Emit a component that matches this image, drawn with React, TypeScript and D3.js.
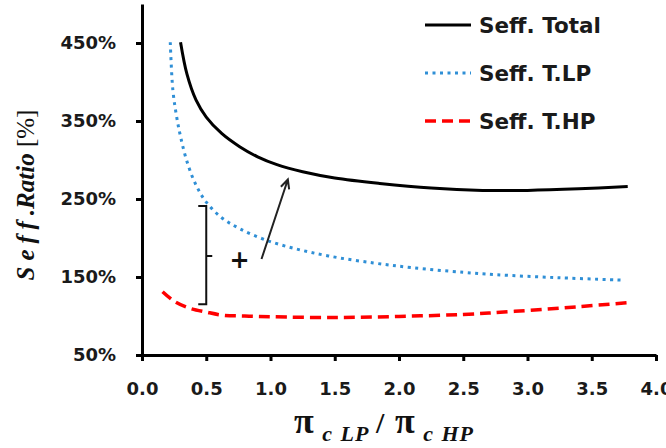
import React, { useEffect, useRef } from 'react';
import * as d3 from 'd3';

// Pressure ratio split (pi_c LP / pi_c HP) vs. efficiency ratio in %
const totalX = [0.3, 0.35, 0.42, 0.5, 0.62, 0.76, 0.9, 1.05, 1.25, 1.5, 1.85, 2.25, 2.65, 3.0, 3.4, 3.78];
const totalY = [451, 410, 377, 355, 334, 317, 304, 294, 285, 277, 270, 264, 261, 261, 263, 266];

const lpX = [0.22, 0.24, 0.27, 0.3, 0.35, 0.42, 0.5, 0.62, 0.76, 0.97, 1.2, 1.45, 1.8, 2.1, 2.5, 2.75, 3.25, 3.75];
const lpY = [451, 390, 355, 330, 298, 268, 246, 226, 212, 197, 186, 177, 168, 162, 156, 153, 149, 146];

const hpX = [0.16, 0.25, 0.37, 0.5, 0.63, 0.8, 1.02, 1.5, 2.0, 2.5, 2.9, 3.4, 3.78];
const hpY = [131, 119, 110, 105, 101, 100, 99, 98, 99.5, 102, 106, 112, 117];

const xTicks = [0, 0.5, 1, 1.5, 2, 2.5, 3, 3.5, 4];
const yTicks = [50, 150, 250, 350, 450];
const legendLabels = ['Seff. Total', 'Seff. T.LP', 'Seff. T.HP'];

const App = () => {
  const svgRef = useRef<SVGSVGElement>(null);

  useEffect(() => {
    const svg = d3.select(svgRef.current);
    svg.selectAll('*').remove();

    const x = d3.scaleLinear().domain([0, 4]).range([142, 656]);
    const y = d3.scaleLinear().domain([50, 500]).range([355, 4]);

    const tickFont = 'DejaVu Sans, sans-serif';

    // axes
    const yAxis = svg
      .append('g')
      .attr('transform', `translate(${x(0)},0)`)
      .call(
        d3
          .axisLeft(y)
          .tickValues(yTicks)
          .tickSize(6)
          .tickSizeOuter(0)
          .tickPadding(20)
          .tickFormat((d) => `${d}%`)
      );
    const xAxis = svg
      .append('g')
      .attr('transform', `translate(0,${y(50)})`)
      .call(
        d3
          .axisBottom(x)
          .tickValues(xTicks)
          .tickSize(6)
          .tickSizeOuter(0)
          .tickPadding(21)
          .tickFormat(d3.format('.1f'))
      );
    [xAxis, yAxis].forEach((g) => {
      g.select('.domain').attr('stroke', '#000').attr('stroke-width', 3);
      g.selectAll('.tick line').attr('stroke', '#000').attr('stroke-width', 3);
      g.selectAll('.tick text')
        .attr('font-family', tickFont)
        .attr('font-weight', 'bold')
        .attr('font-size', 18)
        .attr('fill', '#1a1a1a');
    });

    const line = d3
      .line<[number, number]>()
      .x((d) => x(d[0]))
      .y((d) => y(d[1]))
      .curve(d3.curveCatmullRom);

    const series = [
      { xs: totalX, ys: totalY, color: '#000', width: 3, dash: null },
      { xs: lpX, ys: lpY, color: '#2f8fd6', width: 3, dash: '3 4.5' },
      { xs: hpX, ys: hpY, color: '#ff0000', width: 3.5, dash: '11 6' },
    ];

    series.forEach((s) => {
      svg
        .append('path')
        .datum(s.xs.map((v, i) => [v, s.ys[i]] as [number, number]))
        .attr('d', line)
        .attr('fill', 'none')
        .attr('stroke', s.color)
        .attr('stroke-width', s.width)
        .attr('stroke-dasharray', s.dash);
    });

    // legend
    const legend = svg.append('g');
    series.forEach((s, i) => {
      const ly = 25 + i * 48;
      legend
        .append('line')
        .attr('x1', 425)
        .attr('x2', 471)
        .attr('y1', ly)
        .attr('y2', ly)
        .attr('stroke', s.color)
        .attr('stroke-width', s.width)
        .attr('stroke-dasharray', s.dash);
      legend
        .append('text')
        .attr('x', 479)
        .attr('y', ly)
        .attr('dy', '0.36em')
        .attr('font-family', tickFont)
        .attr('font-weight', 'bold')
        .attr('font-size', 21.5)
        .attr('fill', '#1a1a1a')
        .text(legendLabels[i]);
    });

    // bracket + arrow: LP plus HP gives the total
    const bx = x(0.5);
    const bTop = y(241);
    const bBot = y(115);
    const bMid = y(177);
    svg
      .append('path')
      .attr('d', `M${bx - 8},${bTop}H${bx}V${bBot}H${bx - 8}M${bx},${bMid}H${bx + 6}`)
      .attr('fill', 'none')
      .attr('stroke', '#111')
      .attr('stroke-width', 2);
    svg
      .append('text')
      .attr('x', x(0.76))
      .attr('y', y(172))
      .attr('dy', '0.35em')
      .attr('text-anchor', 'middle')
      .attr('font-family', tickFont)
      .attr('font-weight', 'bold')
      .attr('font-size', 24)
      .attr('fill', '#111')
      .text('+');

    const a0 = [x(0.93), y(173)];
    const a1 = [x(1.135), y(275)];
    const ang = Math.atan2(a1[1] - a0[1], a1[0] - a0[0]);
    const head = 10;
    svg
      .append('path')
      .attr(
        'd',
        `M${a0[0]},${a0[1]}L${a1[0]},${a1[1]}` +
          `M${a1[0] - head * Math.cos(ang - 0.45)},${a1[1] - head * Math.sin(ang - 0.45)}` +
          `L${a1[0]},${a1[1]}` +
          `L${a1[0] - head * Math.cos(ang + 0.45)},${a1[1] - head * Math.sin(ang + 0.45)}`
      )
      .attr('fill', 'none')
      .attr('stroke', '#222')
      .attr('stroke-width', 2);

    // axis titles
    const yTitle = svg
      .append('text')
      .attr('transform', 'translate(34,195) rotate(-90)')
      .attr('text-anchor', 'middle')
      .attr('font-family', 'Liberation Serif, serif')
      .attr('font-weight', 'bold')
      .attr('font-size', 25)
      .attr('fill', '#111');
    yTitle.append('tspan').attr('font-style', 'italic').attr('letter-spacing', 6).text('Seff');
    yTitle.append('tspan').attr('font-style', 'italic').text('.Ratio');
    yTitle.append('tspan').attr('font-weight', 'normal').text(' [%]');

    const xTitle = svg
      .append('text')
      .attr('x', 384)
      .attr('y', 433)
      .attr('text-anchor', 'middle')
      .attr('font-family', 'Liberation Serif, serif')
      .attr('font-weight', 'bold')
      .attr('letter-spacing', 1)
      .attr('word-spacing', 1)
      .attr('fill', '#111');
    xTitle.append('tspan').attr('font-size', 36).text('π');
    xTitle.append('tspan').attr('font-size', 22).attr('font-style', 'italic').attr('dy', 8).text(' c LP ');
    xTitle.append('tspan').attr('font-size', 30).attr('dy', -8).text('/ ');
    xTitle.append('tspan').attr('font-size', 36).text('π');
    xTitle.append('tspan').attr('font-size', 22).attr('font-style', 'italic').attr('dy', 8).text(' c HP');
  }, []);

  return (
    <svg
      ref={svgRef}
      width={666}
      height={448}
      style={{ position: 'absolute', left: 0, top: 0, background: '#fff' }}
    />
  );
};

export default App;
